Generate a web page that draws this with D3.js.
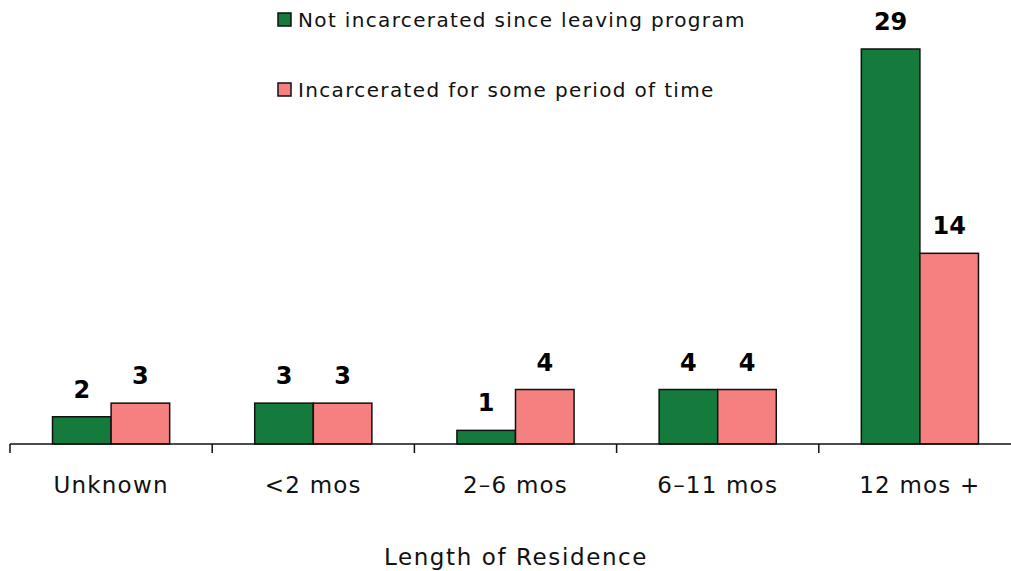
<!DOCTYPE html>
<html>
<head>
<meta charset="utf-8">
<script src="https://cdn.jsdelivr.net/npm/d3@7"></script>
<style>
  body { margin: 0; background: #fff; }
  svg { display: block; font-family: 'DejaVu Sans', Verdana, sans-serif; }
</style>
</head>
<body>
<svg id="chart" width="1011" height="571"></svg>
<script>
const categories = ['Unknown', '<2 mos', '2\u20136 mos', '6\u201311 mos', '12 mos +'];
const seriesNames = ['Not incarcerated since leaving program', 'Incarcerated for some period of time'];
const notIncarcerated = [2, 3, 1, 4, 29];
const incarcerated = [3, 3, 4, 4, 14];
const colors = ['#157B3D', '#F48080'];
const axisTitle = 'Length of Residence';

const svg = d3.select('#chart');
const baseY = 444;

const x = d3.scaleBand().domain(categories).range([10, 1021]).paddingInner(0).paddingOuter(0);
const inner = d3.scaleBand().domain([0, 1]).range([0, x.bandwidth()]).paddingOuter(0.726).paddingInner(0);
const y = d3.scaleLinear().domain([0, 29]).range([baseY, 49]);

const series = [notIncarcerated, incarcerated];
const rows = categories.map((c, i) => series.map((s, k) => ({ cat: c, k, v: s[i] })));

const groups = svg.selectAll('g.cat').data(rows).join('g')
  .attr('class', 'cat')
  .attr('transform', (d, i) => `translate(${x(categories[i])},0)`);

groups.selectAll('rect').data(d => d).join('rect')
  .attr('x', d => inner(d.k))
  .attr('y', d => y(d.v))
  .attr('width', inner.bandwidth())
  .attr('height', d => baseY - y(d.v))
  .attr('fill', d => colors[d.k])
  .attr('stroke', '#111')
  .attr('stroke-width', 1.5);

groups.selectAll('text.val').data(d => d).join('text')
  .attr('class', 'val')
  .attr('x', d => inner(d.k) + inner.bandwidth() / 2)
  .attr('y', d => y(d.v) - 19)
  .attr('text-anchor', 'middle')
  .style('font-size', '24px')
  .style('font-weight', 'bold')
  .attr('fill', '#000')
  .text(d => d.v);

// axis
svg.append('line')
  .attr('x1', 10).attr('x2', 1011).attr('y1', baseY).attr('y2', baseY)
  .attr('stroke', '#111').attr('stroke-width', 1.5);

svg.selectAll('line.tick').data(categories).join('line')
  .attr('class', 'tick')
  .attr('x1', d => x(d)).attr('x2', d => x(d))
  .attr('y1', baseY).attr('y2', baseY + 9)
  .attr('stroke', '#111').attr('stroke-width', 1.5);

svg.selectAll('text.cat').data(categories).join('text')
  .attr('class', 'cat')
  .attr('x', d => x(d) + x.bandwidth() / 2)
  .attr('y', 493)
  .attr('text-anchor', 'middle')
  .style('font-size', '23px')
  .style('letter-spacing', '1.2px')
  .attr('fill', '#111')
  .text(d => d);

svg.append('text')
  .attr('x', 516).attr('y', 565)
  .attr('text-anchor', 'middle')
  .style('font-size', '23px')
  .style('letter-spacing', '1.6px')
  .attr('fill', '#111')
  .text(axisTitle);

// legend
const legend = svg.selectAll('g.leg').data(seriesNames).join('g')
  .attr('class', 'leg')
  .attr('transform', (d, i) => `translate(278,${13 + i * 70})`);
legend.append('rect')
  .attr('width', 13).attr('height', 13)
  .attr('fill', (d, i) => colors[i])
  .attr('stroke', '#111').attr('stroke-width', 1.5);
legend.append('text')
  .attr('x', 20).attr('y', 14)
  .style('font-size', '20px')
  .style('letter-spacing', '1.35px')
  .attr('fill', '#111')
  .text(d => d);
</script>
</body>
</html>
